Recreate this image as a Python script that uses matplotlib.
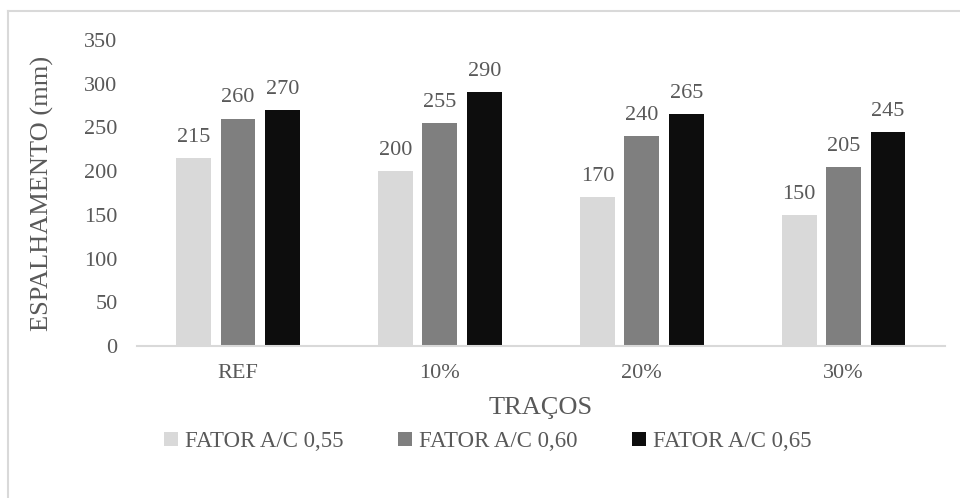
import matplotlib.pyplot as plt
from matplotlib.lines import Line2D
import numpy as np

plt.rcParams['font.family'] = ['Liberation Serif', 'DejaVu Serif']

tracos = ['REF', '10%', '20%', '30%']
series = ['FATOR A/C 0,55', 'FATOR A/C 0,60', 'FATOR A/C 0,65']
fator_055 = [215, 200, 170, 150]
fator_060 = [260, 255, 240, 205]
fator_065 = [270, 290, 265, 245]
cores = ['#d9d9d9', '#7f7f7f', '#0d0d0d']

txt = '#595959'

fig = plt.figure(figsize=(9.6, 4.98), dpi=100)
ax = fig.add_axes([0.1427, 0.305, 0.8413, 0.615])

x = np.arange(len(tracos))
largura = 0.172
passo = 0.22
for i, (vals, cor) in enumerate(zip([fator_055, fator_060, fator_065], cores)):
    pos = x + (i - 1) * passo
    ax.bar(pos, vals, width=largura, color=cor, label=series[i])
    for px, v in zip(pos, vals):
        ax.annotate(str(v), (px, v), xytext=(0, 8), textcoords='offset points',
                    ha='center', va='bottom', fontsize=16, color=txt)

ax.set_xlim(-0.5, 3.5)
ax.set_ylim(0, 350)
ax.set_yticks(range(0, 351, 50))
ax.set_xticks(x)
ax.set_xticklabels(tracos)
ax.tick_params(axis='both', length=0, labelsize=16, labelcolor=txt)
ax.tick_params(axis='y', pad=14)
ax.tick_params(axis='x', pad=13)
for s in ['top', 'right', 'left']:
    ax.spines[s].set_visible(False)
ax.spines['bottom'].set_color('#d9d9d9')
ax.spines['bottom'].set_linewidth(1.5)

ax.set_ylabel('ESPALHAMENTO (mm)', fontsize=19, color=txt, labelpad=22)
ax.set_xlabel('TRAÇOS', fontsize=19, color=txt, labelpad=10)

leg = fig.legend(loc='center', bbox_to_anchor=(0.508, 0.113), ncol=3, frameon=False,
                 fontsize=16.5, handlelength=0.6, handleheight=0.6, handletextpad=0.3,
                 columnspacing=2.4, labelcolor=txt)

# borda cinza do gráfico
W, H = 960, 498
fig.add_artist(Line2D([8 / W, 8 / W], [0, 1 - 11 / H], transform=fig.transFigure,
                      color='#d9d9d9', lw=1.5))
fig.add_artist(Line2D([8 / W, 1], [1 - 11 / H, 1 - 11 / H], transform=fig.transFigure,
                      color='#d9d9d9', lw=1.5))

fig.savefig('out.png', dpi=100)
